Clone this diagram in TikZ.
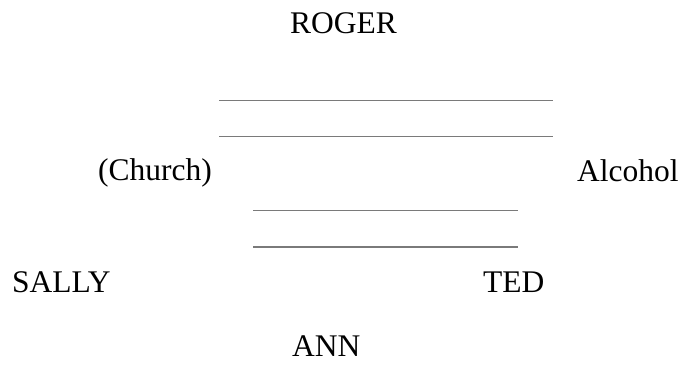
\documentclass[tikz,border=0pt]{standalone}
\usepackage{fontspec}
\setmainfont{Liberation Serif}
\begin{document}
\begin{tikzpicture}[x=1pt,y=-1pt,
  lbl/.style={anchor=base west,inner sep=0pt,font=\fontsize{31.5}{36}\selectfont,text=black},
  rule/.style={draw=black!52,line width=1.6pt}]
\useasboundingbox (0,0) rectangle (680,368);
\node[lbl] (roger) at (290,33) {ROGER};
\node[lbl] (church) at (98,180) {(Church)};
\node[lbl] (alcohol) at (577,181) {Alcohol};
\node[lbl] (sally) at (12,292) {SALLY};
\node[lbl] (ted) at (483,292) {TED};
\node[lbl] (ann) at (292,356) {ANN};
\coordinate (l1a) at (219,100.5); \coordinate (l1b) at (553,100.5);
\coordinate (l2a) at (219,136.5); \coordinate (l2b) at (553,136.5);
\coordinate (l3a) at (253,210.5); \coordinate (l3b) at (518,210.5);
\coordinate (l4a) at (253,247); \coordinate (l4b) at (518,247);
\draw[rule,line width=1.2pt] (l1a) -- (l1b);
\draw[rule,line width=1.9pt] (l2a) -- (l2b);
\draw[rule] (l3a) -- (l3b);
\draw[rule] (l4a) -- (l4b);
\end{tikzpicture}
\end{document}
